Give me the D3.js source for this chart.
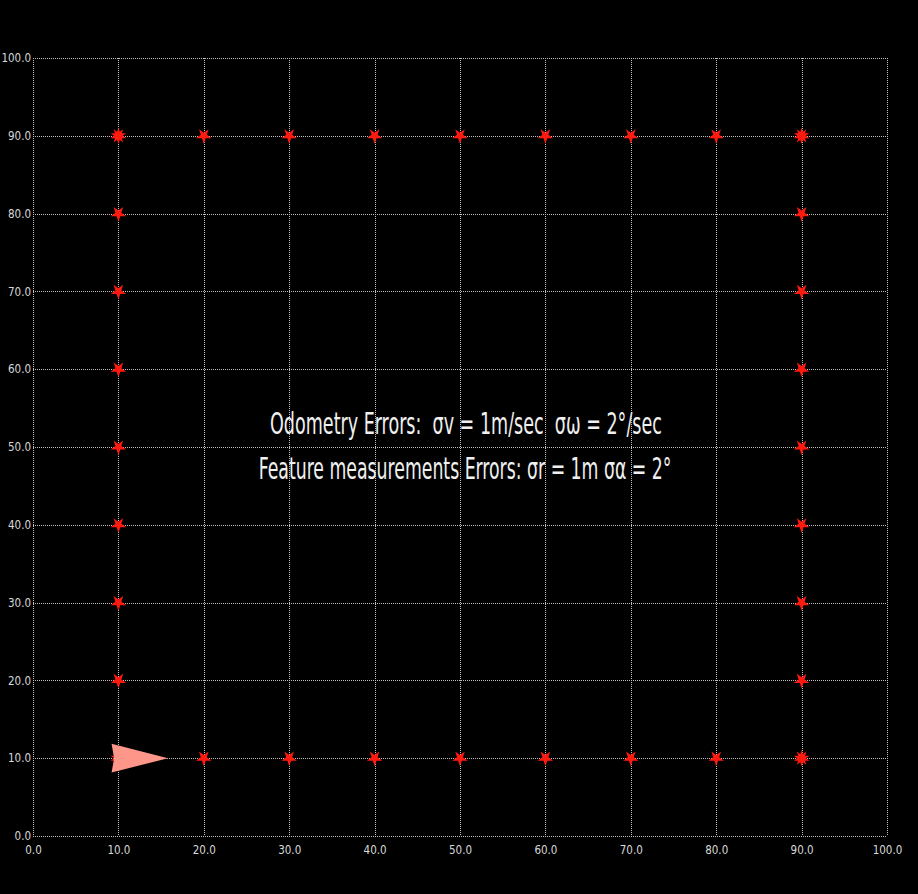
<!DOCTYPE html>
<html>
<head>
<meta charset="utf-8">
<script src="https://cdn.jsdelivr.net/npm/d3@7"></script>
<style>
  html, body { margin: 0; padding: 0; background: #000; }
  svg { display: block; }
</style>
</head>
<body>
<svg id="chart" width="918" height="894"></svg>
<script>
// Axis ticks (both axes share the same 0..100 range)
const xTicks = [0, 10, 20, 30, 40, 50, 60, 70, 80, 90, 100];
const yTicks = [0, 10, 20, 30, 40, 50, 60, 70, 80, 90, 100];

// Landmark positions (metres)
const landmarkX = [10, 20, 30, 40, 50, 60, 70, 80, 90,
                   10, 20, 30, 40, 50, 60, 70, 80, 90,
                   10, 10, 10, 10, 10, 10, 10,
                   90, 90, 90, 90, 90, 90, 90];
const landmarkY = [10, 10, 10, 10, 10, 10, 10, 10, 10,
                   90, 90, 90, 90, 90, 90, 90, 90, 90,
                   20, 30, 40, 50, 60, 70, 80,
                   20, 30, 40, 50, 60, 70, 80];
// Corner landmarks are observed twice and drawn as a double marker
const cornerX = [10, 90, 10, 90];
const cornerY = [10, 10, 90, 90];

// Robot pose: x, y (metres), heading (degrees)
const robotPose = [10, 10, 0];

const annotationLines = [
  "Odometry Errors:  σv = 1m/sec  σω = 2°/sec",
  "Feature measurements Errors: σr = 1m σα = 2°"
];

const svg = d3.select("#chart");
const plotL = 33, plotR = 887, plotT = 58, plotB = 836;

const x = d3.scaleLinear().domain([0, 100]).range([plotL, plotR]);
const y = d3.scaleLinear().domain([0, 100]).range([plotB, plotT]);

svg.append("rect").attr("width", 918).attr("height", 894).attr("fill", "#000");

// Dotted grid
const grid = svg.append("g").attr("stroke", "#c0c0c0").attr("stroke-width", 1)
  .attr("stroke-dasharray", "1,1").attr("shape-rendering", "crispEdges");
grid.selectAll("line.v").data(xTicks).join("line").attr("class", "v")
  .attr("x1", d => Math.round(x(d)) + 0.5).attr("x2", d => Math.round(x(d)) + 0.5)
  .attr("y1", plotT).attr("y2", plotB);
grid.selectAll("line.h").data(yTicks).join("line").attr("class", "h")
  .attr("y1", d => Math.round(y(d)) + 0.5).attr("y2", d => Math.round(y(d)) + 0.5)
  .attr("x1", plotL).attr("x2", plotR);

// Axes (labels only)
const fmt = d3.format(".1f");
const xAxis = svg.append("g").attr("transform", `translate(0,${plotB})`)
  .call(d3.axisBottom(x).tickValues(xTicks).tickFormat(fmt).tickSize(0).tickPadding(10));
const yAxis = svg.append("g").attr("transform", `translate(${plotL},0)`)
  .call(d3.axisLeft(y).tickValues(yTicks).tickFormat(fmt).tickSize(0).tickPadding(2));
[xAxis, yAxis].forEach(a => {
  a.select(".domain").remove();
  a.selectAll("text").attr("fill", "#d8d8d8")
    .style("font-family", "'Liberation Sans Narrow', 'DejaVu Sans Condensed', sans-serif")
    .style("font-size", "11.5px");
});

// Landmarks as red stars
const star = d3.symbol().type(d3.symbolStar).size(75);
const lm = landmarkX.map((d, i) => [d, landmarkY[i]]);
svg.append("g").selectAll("path").data(lm).join("path")
  .attr("d", star)
  .attr("transform", d => `translate(${x(d[0])},${y(d[1])}) rotate(180)`)
  .attr("fill", "#ff1a10");
const cn = cornerX.map((d, i) => [d, cornerY[i]]);
svg.append("g").selectAll("path").data(cn).join("path")
  .attr("d", star)
  .attr("transform", d => `translate(${x(d[0])},${y(d[1])})`)
  .attr("fill", "#ff1a10");

// Robot drawn as an arrowhead (sizes in metres)
const robotLen = 6.6, robotHalfWidth = 1.85, robotBack = 0.8, robotNotch = 0.3;
const [rx, ry, rh] = robotPose;
const th = rh * Math.PI / 180;
const local = [[robotLen - robotBack, 0], [-robotBack, robotHalfWidth],
               [-robotBack + robotNotch, 0], [-robotBack, -robotHalfWidth]];
const pts = local.map(([u, v]) => [
  x(rx + u * Math.cos(th) - v * Math.sin(th)),
  y(ry + u * Math.sin(th) + v * Math.cos(th))
]);
svg.append("path").attr("d", d3.line()(pts) + "Z").attr("fill", "#ff968a");

// Annotation: each line is stretched horizontally to its target width
const annY = [434, 479], annW = [392, 413], annX = [50.7, 50.6];
annotationLines.forEach((t, i) => {
  const txt = svg.append("text")
    .attr("fill", "#f0f0f0")
    .attr("text-anchor", "middle")
    .attr("xml:space", "preserve")
    .style("white-space", "pre")
    .style("font-family", "'Liberation Sans Narrow', 'DejaVu Sans Condensed', sans-serif")
    .style("font-size", "31px")
    .text(t);
  const w = txt.node().getComputedTextLength() || annW[i];
  txt.attr("transform", `translate(${x(annX[i])},${annY[i]}) scale(${annW[i] / w},1)`);
});
</script>
</body>
</html>
